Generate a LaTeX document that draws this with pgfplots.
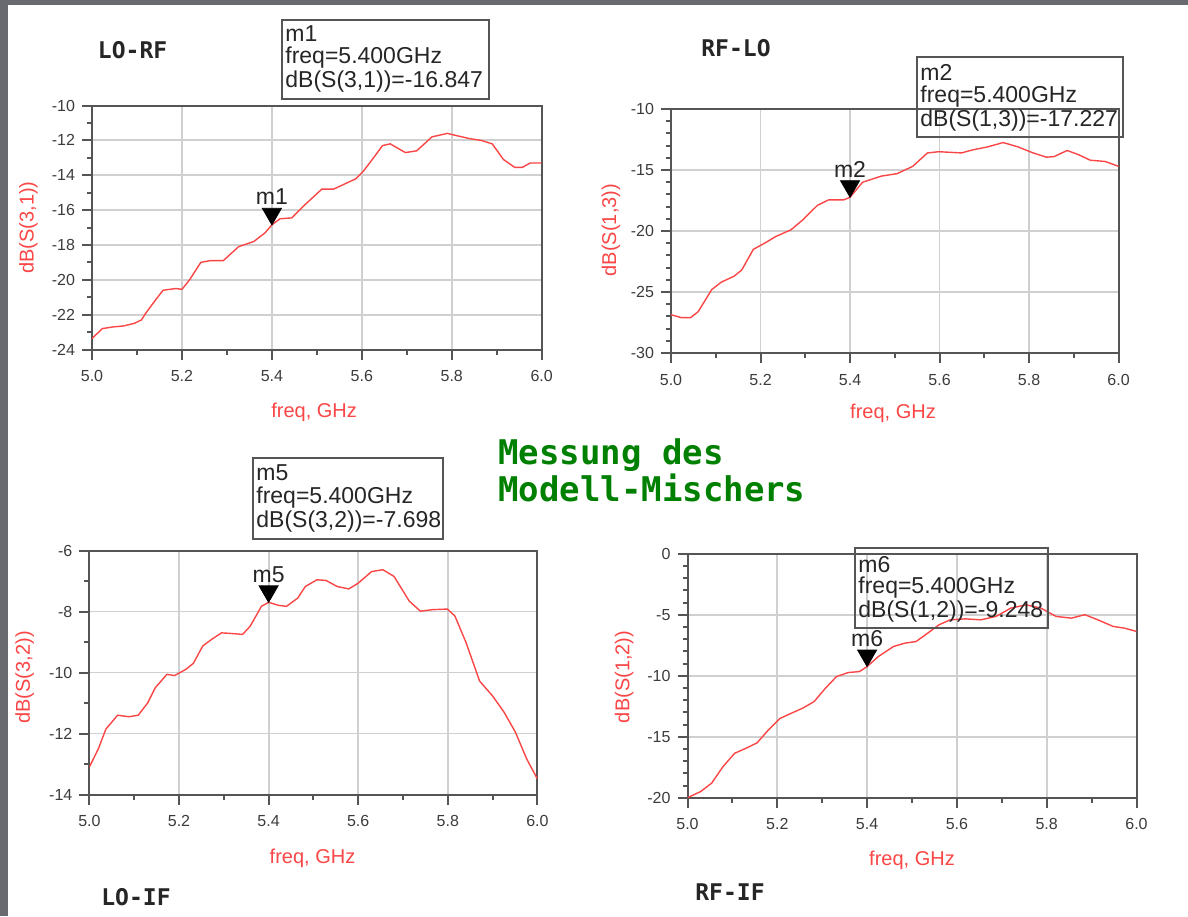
\documentclass[border=0pt]{standalone}
\usepackage{fontspec}
\setmainfont{Liberation Sans}
\newfontfamily\monob{DejaVu Sans Mono}
\usepackage{pgfplots}
\pgfplotsset{compat=1.18}
\definecolor{curve}{RGB}{250,70,70}
\definecolor{lab}{RGB}{250,70,70}
\definecolor{axcol}{RGB}{85,85,85}
\definecolor{gridcol}{RGB}{208,208,208}
\definecolor{tickcol}{RGB}{60,60,60}
\definecolor{framec}{RGB}{105,105,112}
\definecolor{mgreen}{RGB}{0,128,0}
\newcommand{\labfont}{\fontsize{10}{12}\selectfont}
\pgfplotsset{
  mystyle/.style={
    scale only axis,
    anchor=south west,
    xmin=5, xmax=6,
    xtick={5,5.2,5.4,5.6,5.8,6},
    minor x tick num=1,
    xtick pos=bottom, ytick pos=left,
    grid=major,
    major grid style={gridcol, line width=0.9pt},
    axis line style={axcol, line width=1pt},
    every tick/.style={axcol, line width=1pt},
    tick align=outside,
    major tick length=5pt,
    minor tick length=2.5pt,
    /pgf/number format/assume math mode=true,
    x tick label style={font=\fontsize{8}{9}\selectfont, text=tickcol, yshift=-2pt,
      /pgf/number format/fixed, /pgf/number format/fixed zerofill, /pgf/number format/precision=1},
    y tick label style={font=\fontsize{8}{9}\selectfont, text=tickcol},
    xlabel={freq, GHz},
  },
  curvestyle/.style={curve, line width=0.7pt},
  mk/.style={only marks, black, mark=triangle*, mark size=5.5pt, mark options={yshift=5.5pt, rotate=180, fill=black}},
}
\newcommand{\boxfont}{\fontsize{11.5}{12}\selectfont}
\newcommand{\mfont}{\fontsize{11.5}{12}\selectfont}
\newcommand{\tfont}{\monob\bfseries\fontsize{11.5}{13}\selectfont}
\begin{document}
\begin{tikzpicture}
\begin{scope}[x=0.5pt,y=-0.5pt]
  \fill[framec] (0,0) rectangle (1188,916);
  \fill[white] (8,5) rectangle (1188,916);
  % titles
  \node[font=\tfont, text=black!85] at (132.6,50) {LO-RF};
  \node[font=\tfont, text=black!85] at (736,48) {RF-LO};
  \node[font=\tfont, text=black!85] at (136,897) {LO-IF};
  \node[font=\tfont, text=black!85] at (730,892) {RF-IF};
  % green heading
  \node[font=\monob\bfseries\fontsize{17}{19}\selectfont, text=mgreen, anchor=west, inner sep=0pt] at (498,455) {Messung des};
  \node[font=\monob\bfseries\fontsize{17}{19}\selectfont, text=mgreen, anchor=west, inner sep=0pt] at (498,488) {Modell-Mischers};
\end{scope}

% ---------------- Plot 1: LO-RF
\begin{axis}[mystyle, at={(46pt,-174.75pt)}, width=224.85pt, height=122pt,
  ymin=-24, ymax=-10, ytick={-24,-22,...,-10}, minor y tick num=1,
  ylabel={dB(S(3,1))},
  every axis x label/.style={at={(axis description cs:0.494,-0.256)}, anchor=center, text=lab, font=\labfont},
  every axis y label/.style={at={(axis description cs:-0.1414,0.5)}, anchor=center, rotate=90, text=lab, font=\labfont}]
\addplot[curvestyle] coordinates {
(5.000,-23.37) (5.023,-22.80) (5.048,-22.70) (5.070,-22.65) (5.094,-22.50) (5.110,-22.30)
(5.120,-21.90) (5.140,-21.20) (5.158,-20.60) (5.187,-20.50) (5.200,-20.55) (5.217,-20.00)
(5.242,-19.00) (5.263,-18.90) (5.292,-18.90) (5.326,-18.10) (5.360,-17.80) (5.385,-17.30)
(5.400,-16.85) (5.418,-16.50) (5.444,-16.45) (5.469,-15.80) (5.511,-14.80) (5.537,-14.80)
(5.587,-14.20) (5.604,-13.75) (5.629,-12.90) (5.646,-12.30) (5.663,-12.20) (5.697,-12.70)
(5.722,-12.60) (5.756,-11.80) (5.790,-11.60) (5.806,-11.70) (5.840,-11.90) (5.865,-12.00)
(5.890,-12.20) (5.915,-13.10) (5.940,-13.55) (5.957,-13.55) (5.974,-13.30) (6.000,-13.30)};
\addplot[mk] coordinates {(5.4,-16.847)};
\node[anchor=south, inner sep=0pt, yshift=9.8pt, font=\mfont, text=black!85] at (axis cs:5.4,-16.847) {m1};
\end{axis}

% ---------------- Plot 2: RF-LO
\begin{axis}[mystyle, at={(335.5pt,-176.5pt)}, width=223.8pt, height=122pt,
  ymin=-30, ymax=-10, ytick={-30,-25,...,-10}, minor y tick num=4,
  ylabel={dB(S(1,3))},
  every axis x label/.style={at={(axis description cs:0.496,-0.246)}, anchor=center, text=lab, font=\labfont},
  every axis y label/.style={at={(axis description cs:-0.134,0.504)}, anchor=center, rotate=90, text=lab, font=\labfont}]
\addplot[curvestyle] coordinates {
(5.000,-26.86) (5.023,-27.10) (5.044,-27.10) (5.061,-26.60) (5.091,-24.80) (5.112,-24.20)
(5.141,-23.70) (5.158,-23.20) (5.184,-21.50) (5.209,-21.00) (5.234,-20.45) (5.268,-19.90)
(5.294,-19.10) (5.327,-17.90) (5.352,-17.45) (5.386,-17.45) (5.400,-17.23) (5.428,-16.00)
(5.470,-15.50) (5.505,-15.30) (5.540,-14.70) (5.573,-13.60) (5.598,-13.50) (5.649,-13.60)
(5.674,-13.35) (5.708,-13.10) (5.742,-12.75) (5.775,-13.10) (5.809,-13.60) (5.839,-13.95)
(5.856,-13.90) (5.885,-13.40) (5.911,-13.75) (5.937,-14.20) (5.970,-14.30) (6.000,-14.70)};
\addplot[mk] coordinates {(5.4,-17.227)};
\node[anchor=south, inner sep=0pt, yshift=9.8pt, font=\mfont, text=black!85] at (axis cs:5.4,-17.227) {m2};
\end{axis}

% ---------------- Plot 3: LO-IF
\begin{axis}[mystyle, at={(44.7pt,-397.25pt)}, width=224pt, height=122pt,
  ymin=-14, ymax=-6, ytick={-14,-12,...,-6}, minor y tick num=1,
  ylabel={dB(S(3,2))},
  every axis x label/.style={at={(axis description cs:0.498,-0.26)}, anchor=center, text=lab, font=\labfont},
  every axis y label/.style={at={(axis description cs:-0.1446,0.48)}, anchor=center, rotate=90, text=lab, font=\labfont}]
\addplot[curvestyle] coordinates {
(5.000,-13.10) (5.020,-12.50) (5.037,-11.85) (5.063,-11.40) (5.088,-11.45) (5.109,-11.40)
(5.130,-11.00) (5.147,-10.50) (5.173,-10.06) (5.190,-10.10) (5.215,-9.90) (5.232,-9.70)
(5.253,-9.13) (5.274,-8.90) (5.295,-8.70) (5.316,-8.72) (5.342,-8.75) (5.359,-8.48)
(5.384,-7.83) (5.400,-7.70) (5.423,-7.80) (5.440,-7.83) (5.465,-7.56) (5.482,-7.18)
(5.508,-6.96) (5.528,-6.98) (5.553,-7.18) (5.579,-7.26) (5.600,-7.07) (5.630,-6.69)
(5.655,-6.63) (5.680,-6.85) (5.714,-7.66) (5.739,-7.99) (5.765,-7.94) (5.799,-7.92)
(5.816,-8.15) (5.841,-9.03) (5.871,-10.28) (5.900,-10.77) (5.926,-11.31) (5.951,-11.96)
(5.976,-12.83) (6.000,-13.49)};
\addplot[mk] coordinates {(5.4,-7.698)};
\node[anchor=south, inner sep=0pt, yshift=9.8pt, font=\mfont, text=black!85] at (axis cs:5.4,-7.698) {m5};
\end{axis}

% ---------------- Plot 4: RF-IF
\begin{axis}[mystyle, at={(343.75pt,-398.85pt)}, width=224.5pt, height=122pt,
  ymin=-20, ymax=0, ytick={-20,-15,...,0}, minor y tick num=4,
  ylabel={dB(S(1,2))},
  every axis x label/.style={at={(axis description cs:0.5,-0.255)}, anchor=center, text=lab, font=\labfont},
  every axis y label/.style={at={(axis description cs:-0.141,0.495)}, anchor=center, rotate=90, text=lab, font=\labfont}]
\addplot[curvestyle] coordinates {
(5.000,-20.00) (5.029,-19.50) (5.054,-18.80) (5.079,-17.45) (5.105,-16.36) (5.130,-15.95)
(5.155,-15.50) (5.180,-14.45) (5.206,-13.50) (5.231,-13.08) (5.256,-12.67) (5.282,-12.12)
(5.307,-11.03) (5.332,-10.07) (5.358,-9.74) (5.383,-9.66) (5.400,-9.25) (5.425,-8.43)
(5.459,-7.60) (5.484,-7.33) (5.509,-7.20) (5.535,-6.51) (5.560,-5.83) (5.585,-5.42)
(5.619,-5.34) (5.653,-5.42) (5.687,-5.14) (5.720,-4.46) (5.754,-4.19) (5.787,-4.46)
(5.821,-5.14) (5.855,-5.28) (5.885,-5.00) (5.914,-5.42) (5.948,-5.96) (5.973,-6.10)
(6.000,-6.37)};
\addplot[mk] coordinates {(5.4,-9.248)};
\node[anchor=south, inner sep=0pt, yshift=9.8pt, font=\mfont, text=black!85] at (axis cs:5.4,-9.248) {m6};
\end{axis}

% marker readout boxes
\begin{scope}[x=0.5pt,y=-0.5pt]
  \draw[axcol, line width=1pt] (282,20) rectangle (489,99);
  \node[anchor=west, inner sep=0pt, font=\boxfont, text=black!85] at (285,34) {m1};
  \node[anchor=west, inner sep=0pt, font=\boxfont, text=black!85] at (285,58) {freq=5.400GHz};
  \node[anchor=west, inner sep=0pt, font=\boxfont, text=black!85] at (285,82) {dB(S(3,1))=-16.847};

  \draw[axcol, line width=1pt] (917,57) rectangle (1123,137);
  \node[anchor=west, inner sep=0pt, font=\boxfont, text=black!85] at (920,72) {m2};
  \node[anchor=west, inner sep=0pt, font=\boxfont, text=black!85] at (920,97) {freq=5.400GHz};
  \node[anchor=west, inner sep=0pt, font=\boxfont, text=black!85] at (920,121) {dB(S(1,3))=-17.227};

  \draw[axcol, line width=1pt] (253,458) rectangle (443,539);
  \node[anchor=west, inner sep=0pt, font=\boxfont, text=black!85] at (256,473) {m5};
  \node[anchor=west, inner sep=0pt, font=\boxfont, text=black!85] at (256,498) {freq=5.400GHz};
  \node[anchor=west, inner sep=0pt, font=\boxfont, text=black!85] at (256,522) {dB(S(3,2))=-7.698};

  \draw[axcol, line width=1pt] (855,548) rectangle (1048,628);
  \node[anchor=west, inner sep=0pt, font=\boxfont, text=black!85] at (858,565) {m6};
  \node[anchor=west, inner sep=0pt, font=\boxfont, text=black!85] at (858,588) {freq=5.400GHz};
  \node[anchor=west, inner sep=0pt, font=\boxfont, text=black!85] at (858,612) {dB(S(1,2))=-9.248};
\end{scope}
\end{tikzpicture}
\end{document}
